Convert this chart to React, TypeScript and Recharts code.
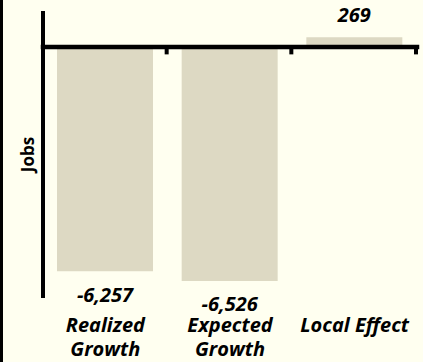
import { BarChart, Bar, XAxis, YAxis, ReferenceLine, LabelList, Label } from 'recharts';

const categories = ['Realized\nGrowth', 'Expected\nGrowth', 'Local Effect'];
const jobs = [-6257, -6526, 269];

const data = categories.map((name, i) => ({ name, value: jobs[i] }));

const BAR_FILL = '#DDD9C3';
const FONT = '"Open Sans", Lato, sans-serif';

// multi-line category names, pushed well below the plot
function CategoryTick(props: any) {
  const { x, y, payload } = props;
  const lines = String(payload.value).split('\n');
  return (
    <text
      x={x}
      y={y}
      textAnchor="middle"
      fontFamily={FONT}
      fontSize={20}
      fontWeight="bold"
      fontStyle="italic"
      fill="#000"
    >
      {lines.map((line, i) => (
        <tspan key={i} x={x} y={y + 33.5 + i * 24.5}>
          {line}
        </tspan>
      ))}
    </text>
  );
}

// zero line with small ticks at the category boundaries
function ZeroAxis(props: any) {
  const { x1, x2, y1 } = props;
  const step = (x2 - x1) / categories.length;
  const ticks = categories.map((_, i) => x1 + (i + 1) * step - 1);
  return (
    <g>
      <line x1={x1} y1={y1} x2={x2} y2={y1} stroke="#000" strokeWidth={4.5} strokeLinecap="square" />
      {ticks.map((tx, i) => (
        <line key={i} x1={tx} y1={y1} x2={tx} y2={y1 + 7.5} stroke="#000" strokeWidth={4} />
      ))}
    </g>
  );
}

function ValueLabel(props: any) {
  const vb = props.viewBox ?? props;
  const { x, y, width, height } = vb;
  const value = Number(props.value);
  const top = Math.min(y, y + height);
  const bottom = Math.max(y, y + height);
  const ty = value < 0 ? bottom + 30.5 : top - 15;
  return (
    <text
      x={x + width / 2}
      y={ty}
      textAnchor="middle"
      fontFamily={FONT}
      fontSize={20}
      fontWeight="bold"
      fontStyle="italic"
      fill="#000"
    >
      {value.toLocaleString('en-US')}
    </text>
  );
}

function JobsLabel(props: any) {
  const { x, y, height } = props.viewBox;
  const cx = x + 24;
  const cy = y + height / 2;
  return (
    <text
      x={cx}
      y={cy}
      transform={`rotate(-90 ${cx} ${cy})`}
      textAnchor="middle"
      dominantBaseline="central"
      fontFamily={FONT}
      fontSize={17}
      fontWeight="bold"
      fill="#000"
    >
      Jobs
    </text>
  );
}

export default function App() {
  return (
    <div
      style={{
        width: 420,
        height: 362,
        borderLeft: '3px solid #000',
        background: '#FFFFF0',
      }}
    >
      <style>{'body { margin: 0; }'}</style>
      <BarChart
        width={420}
        height={362}
        data={data}
        margin={{ top: 11, right: 6, bottom: 0, left: 0 }}
      >
        <XAxis
          dataKey="name"
          axisLine={false}
          tickLine={false}
          tickSize={0}
          tickMargin={0}
          height={64}
          interval={0}
          tick={<CategoryTick />}
        />
        <YAxis
          width={40}
          domain={[-7000, 1000]}
          ticks={[-7000, 1000]}
          tick={false}
          tickLine={false}
          axisLine={{ stroke: '#000', strokeWidth: 4 }}
        >
          <Label content={<JobsLabel />} />
        </YAxis>
        <Bar dataKey="value" fill={BAR_FILL} barSize={96} isAnimationActive={false}>
          <LabelList dataKey="value" content={<ValueLabel />} />
        </Bar>
        <ReferenceLine y={0} shape={(p: any) => <ZeroAxis {...p} />} />
      </BarChart>
    </div>
  );
}
